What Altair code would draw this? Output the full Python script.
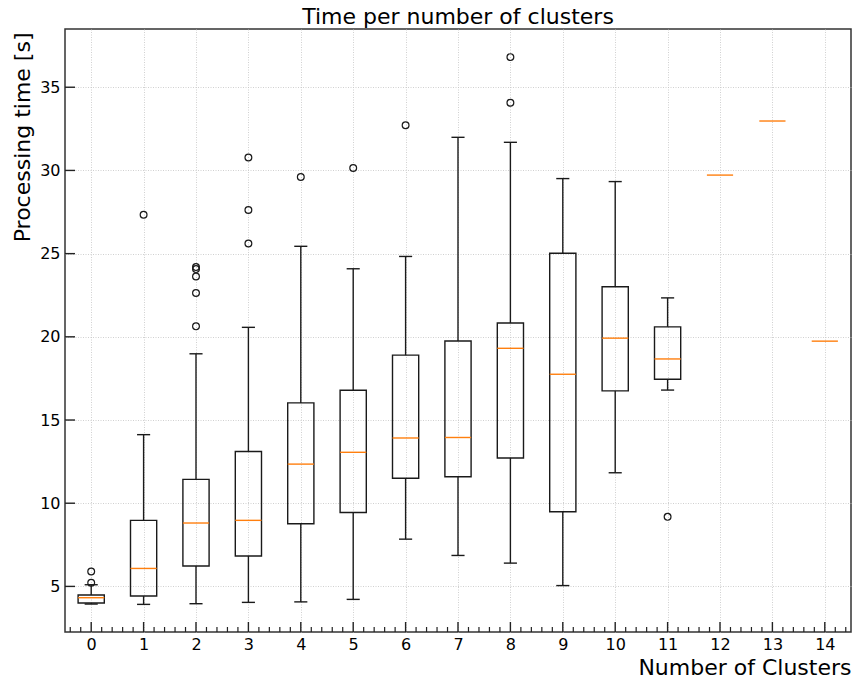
import altair as alt
import pandas as pd

# ---- data ----
clusters = list(range(15))
q1 = [4.00, 4.42, 6.23, 6.83, 8.77, 9.44, 11.50, 11.59, 12.72, 9.49, 16.75, 17.45, 29.72, 32.97, 19.74]
q3 = [4.48, 8.97, 11.43, 13.11, 16.03, 16.79, 18.90, 19.75, 20.83, 25.02, 23.01, 20.60, 29.72, 32.97, 19.74]
median = [4.32, 6.08, 8.81, 8.97, 12.35, 13.06, 13.92, 13.95, 19.31, 17.75, 19.92, 18.67, 29.72, 32.97, 19.74]
whisk_lo = [3.94, 3.92, 3.96, 4.04, 4.07, 4.22, 7.84, 6.86, 6.40, 5.05, 11.83, 16.80, 29.72, 32.97, 19.74]
whisk_hi = [5.10, 14.12, 18.98, 20.57, 25.44, 24.09, 24.83, 31.99, 31.69, 29.51, 29.33, 22.34, 29.72, 32.97, 19.74]

outlier_cluster = [0, 0, 1, 2, 2, 2, 2, 2, 3, 3, 3, 4, 5, 6, 8, 8, 11]
outlier_value = [5.22, 5.90, 27.34, 20.63, 22.63, 23.63, 24.07, 24.19, 25.61, 27.62, 30.78,
                 29.61, 30.15, 32.72, 34.07, 36.81, 9.18]

x_major = list(range(15))
x_minor = [k / 5 for k in range(-2, 73) if k % 5 != 0]
y_major = [5, 10, 15, 20, 25, 30, 35]

W, H = 786, 603
X_DOMAIN = [-0.5, 14.5]
Y_DOMAIN = [2.26, 38.5]
FONT = "DejaVu Sans"

box_df = pd.DataFrame({
    "c": clusters, "q1": q1, "q3": q3, "med": median, "lo": whisk_lo, "hi": whisk_hi,
})
out_df = pd.DataFrame({"c": outlier_cluster, "v": outlier_value})
xmaj_df = pd.DataFrame({"t": x_major})
xmin_df = pd.DataFrame({"t": x_minor})
ymaj_df = pd.DataFrame({"t": y_major})

xs = alt.Scale(domain=X_DOMAIN, nice=False, zero=False)
ys = alt.Scale(domain=Y_DOMAIN, nice=False, zero=False)

base = alt.Chart(box_df).transform_calculate(
    xl="datum.c - 0.25", xr="datum.c + 0.25",
    cl="datum.c - 0.125", cr="datum.c + 0.125",
)
spread = base.transform_filter("datum.q3 > datum.q1")

LINE = "#1a1a1a"
SW = 1.4

# gridlines/axes layer
axis_layer = base.mark_rule(opacity=0).encode(
    x=alt.X("c:Q", scale=xs, title="Number of Clusters",
            axis=alt.Axis(values=x_major, format="d", grid=True, ticks=False, domain=False,
                          labelFontSize=16, labelFont=FONT, labelColor="black", labelPadding=4,
                          gridColor="#c4c4c4", gridDash=[1, 1.5], gridWidth=0.8,
                          titleFontSize=22, titleFont=FONT, titleFontWeight="normal",
                          titleColor="black", titleAnchor="end", titleAlign="right",
                          titleBaseline="alphabetic", titleX=W, titleY=42)),
    y=alt.Y("med:Q", scale=ys, title="Processing time [s]",
            axis=alt.Axis(values=y_major, format="d", grid=True, ticks=False, domain=False,
                          labelFontSize=16, labelFont=FONT, labelColor="black", labelPadding=5,
                          gridColor="#c4c4c4", gridDash=[1, 1.5], gridWidth=0.8,
                          titleFontSize=22, titleFont=FONT, titleFontWeight="normal",
                          titleColor="black", titleAnchor="end", titleAlign="right",
                          titleBaseline="alphabetic", titleAngle=270, titleX=-36, titleY=3)),
)

boxes = spread.mark_rect(filled=False, stroke=LINE, strokeWidth=SW).encode(
    x=alt.X("xl:Q", scale=xs), x2="xr:Q",
    y=alt.Y("q1:Q", scale=ys), y2="q3:Q",
)
whisk_up = spread.mark_rule(color=LINE, strokeWidth=SW).encode(
    x=alt.X("c:Q", scale=xs), y=alt.Y("q3:Q", scale=ys), y2="hi:Q",
)
whisk_dn = spread.mark_rule(color=LINE, strokeWidth=SW).encode(
    x=alt.X("c:Q", scale=xs), y=alt.Y("lo:Q", scale=ys), y2="q1:Q",
)
cap_hi = spread.mark_rule(color=LINE, strokeWidth=SW).encode(
    x=alt.X("cl:Q", scale=xs), x2="cr:Q", y=alt.Y("hi:Q", scale=ys),
)
cap_lo = spread.mark_rule(color=LINE, strokeWidth=SW).encode(
    x=alt.X("cl:Q", scale=xs), x2="cr:Q", y=alt.Y("lo:Q", scale=ys),
)
medians = base.mark_rule(color="#ff7f0e", strokeWidth=1.4).encode(
    x=alt.X("xl:Q", scale=xs), x2="xr:Q", y=alt.Y("med:Q", scale=ys),
)
outliers = alt.Chart(out_df).mark_point(shape="circle", filled=False, color=LINE,
                                        size=46, strokeWidth=1.2, opacity=1).encode(
    x=alt.X("c:Q", scale=xs), y=alt.Y("v:Q", scale=ys),
)

TICK = "#222222"
xmaj_ticks = alt.Chart(xmaj_df).mark_rule(color=TICK, strokeWidth=1.4).encode(
    x=alt.X("t:Q", scale=xs), y=alt.value(H - 10), y2=alt.value(H),
)
xmin_ticks = alt.Chart(xmin_df).mark_rule(color=TICK, strokeWidth=1.2).encode(
    x=alt.X("t:Q", scale=xs), y=alt.value(H - 5), y2=alt.value(H),
)
ymaj_ticks = alt.Chart(ymaj_df).mark_rule(color=TICK, strokeWidth=1.4).encode(
    y=alt.Y("t:Q", scale=ys), x=alt.value(0), x2=alt.value(10),
)

chart = alt.layer(
    axis_layer, boxes, whisk_up, whisk_dn, cap_hi, cap_lo, medians, outliers,
    xmaj_ticks, xmin_ticks, ymaj_ticks,
).properties(
    width=W, height=H,
    title=alt.TitleParams("Time per number of clusters", fontSize=22, font=FONT,
                          fontWeight="normal", color="black", anchor="middle",
                          baseline="alphabetic", offset=5, dy=22),
    autosize=alt.AutoSizeParams(type="none"),
    padding={"left": 65, "top": 29, "right": 3, "bottom": 46},
).configure(
    background="white",
).configure_view(
    stroke="#333333", strokeWidth=1.5,
)

chart.save("out.html", embed_options={"renderer": "svg", "actions": False})
